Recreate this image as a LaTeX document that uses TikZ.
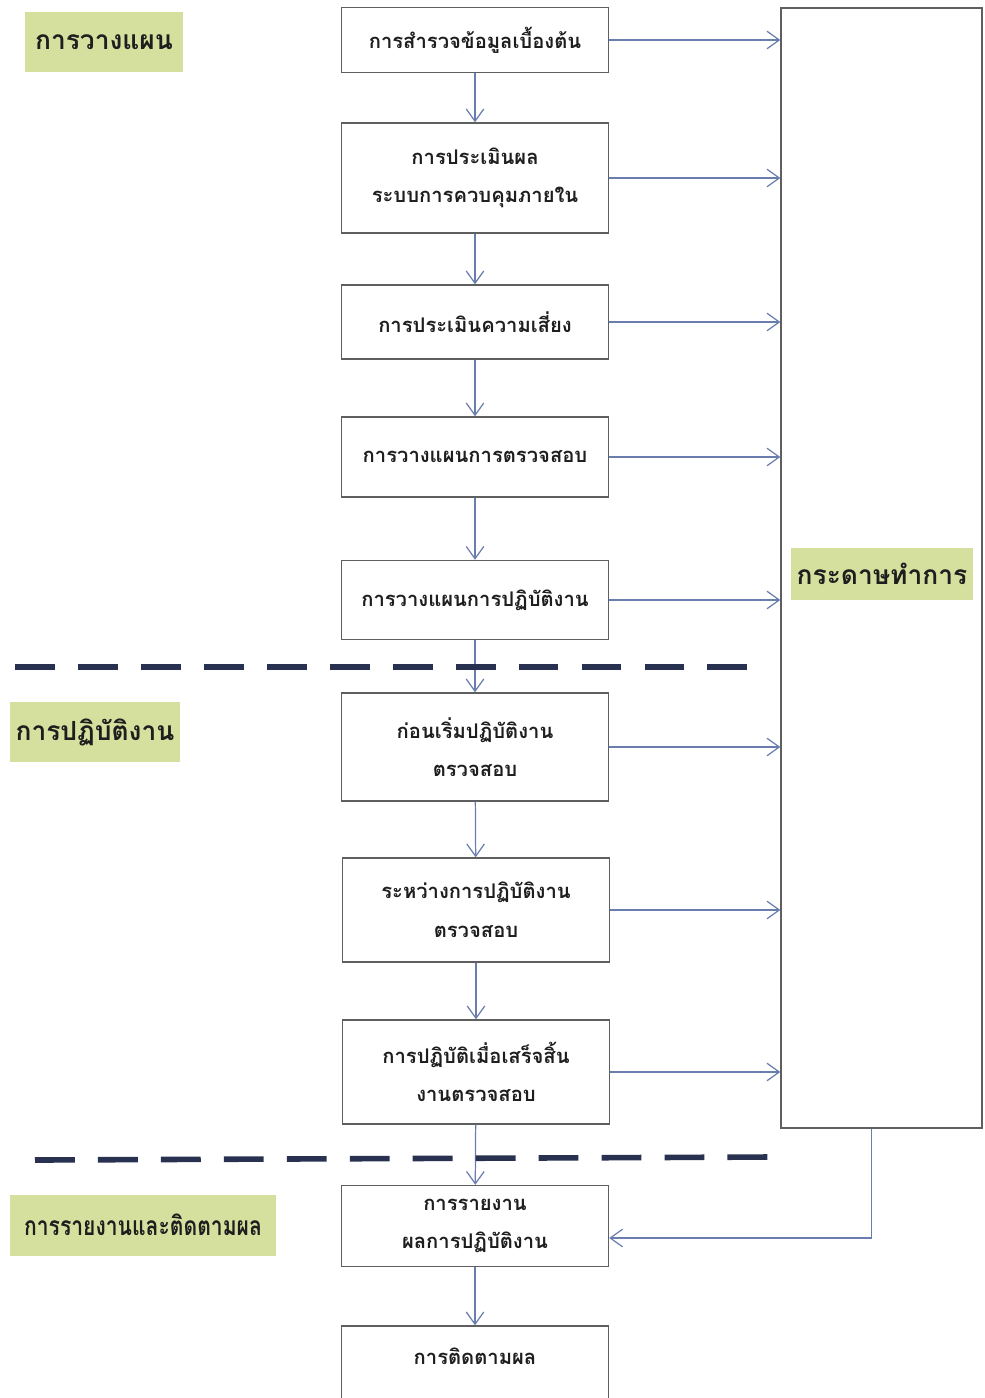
\documentclass[tikz,border=0pt]{standalone}
\usepackage{fontspec}
\newfontfamily\thaifont[Script=Thai]{Loma}
\newfontfamily\thainarrow[Script=Thai, FakeStretch=0.8]{Loma}
\usetikzlibrary{positioning,arrows.meta}
\definecolor{wpLine}{RGB}{105,125,175}
\definecolor{wpFrame}{RGB}{95,95,95}
\definecolor{wpNavy}{RGB}{40,50,80}
\definecolor{wpTag}{RGB}{214,224,158}
\definecolor{wpText}{RGB}{30,30,30}

\begin{document}
\begin{tikzpicture}[x=0.02cm, y=-0.02cm,
  stepbox/.style={draw=wpFrame, line width=0.8pt, fill=white, minimum width=5.34cm, align=center,
    text=wpText, font={\thaifont\bfseries\fontsize{11.5}{22}\selectfont}},
  tag/.style={fill=wpTag, text=wpText, font={\thaifont\bfseries\fontsize{15}{18}\selectfont}},
  flow/.style={wpLine, line width=0.7pt, -{Straight Barb[length=7pt,width=10pt]}},
  sep/.style={wpNavy, line width=3.2pt, dash pattern=on 22.68pt off 13.15pt}]
  \useasboundingbox (0,0) rectangle (984,1398);

  % Working papers column
  \node[draw=wpFrame, line width=0.8pt, minimum width=4.02cm, minimum height=22.4cm] (paper) at (881.5,568) {};
  \node[tag, minimum width=3.58cm, minimum height=1.04cm] (papertag) at (882,574) {กระดาษทำการ};

  % Planning
  \node[tag, minimum width=3.16cm, minimum height=1.2cm] (plantag) at (104,42) {การวางแผน};
  \node[stepbox, minimum height=1.3cm] (survey) at (475,40) {การสำรวจข้อมูลเบื้องต้น};
  \node[stepbox, minimum height=2.2cm] (control) at (475,178) {การประเมินผล\\ระบบการควบคุมภายใน};
  \node[stepbox, minimum height=1.48cm] (risk) at (475,322) {การประเมินความเสี่ยง};
  \node[stepbox, minimum height=1.6cm] (auditplan) at (475,457) {การวางแผนการตรวจสอบ};
  \node[stepbox, minimum height=1.58cm] (workplan) at (475,600) {การวางแผนการปฏิบัติงาน};

  % Fieldwork
  \node[tag, minimum width=3.32cm, minimum height=1.2cm] (worktag) at (95,732) {การปฏิบัติงาน};
  \node[stepbox, minimum height=2.16cm] (before) at (475,747) {ก่อนเริ่มปฏิบัติงาน\\ตรวจสอบ};
  \node[stepbox, minimum height=2.08cm] (during) at (476,910) {ระหว่างการปฏิบัติงาน\\ตรวจสอบ};
  \node[stepbox, minimum height=2.08cm] (after) at (476,1072) {การปฏิบัติเมื่อเสร็จสิ้น\\งานตรวจสอบ};

  % Reporting and follow-up
  \node[tag, minimum width=5.32cm, minimum height=1.22cm, inner xsep=2pt,
    font={\thainarrow\bfseries\fontsize{15}{18}\selectfont}] (reporttag) at (143,1225) {การรายงานและติดตามผล};
  \node[stepbox, minimum height=1.62cm] (report) at (475,1226) {การรายงาน\\ผลการปฏิบัติงาน};
  \node[stepbox, minimum height=1.72cm, text depth=15pt] (follow) at (475,1369) {การติดตามผล};

  % Flow down the steps
  \foreach \a/\b in {survey/control, control/risk, risk/auditplan, auditplan/workplan,
    workplan/before, before/during, during/after, after/report, report/follow}
    \draw[flow] (\a) -- (\b);

  % Into the working papers
  \foreach \s in {survey, control, risk, auditplan, workplan, before, during, after}
    \draw[flow] (\s.east) -- (\s.east -| paper.west);
  \draw[flow] ([xshift=-0.2cm]paper.south) |- ([yshift=-0.24cm]report.east);

  % Phase separators
  \draw[sep] (15,667) -- (750,667);
  \draw[sep] (35,1160) -- (775,1157);
\end{tikzpicture}
\end{document}
